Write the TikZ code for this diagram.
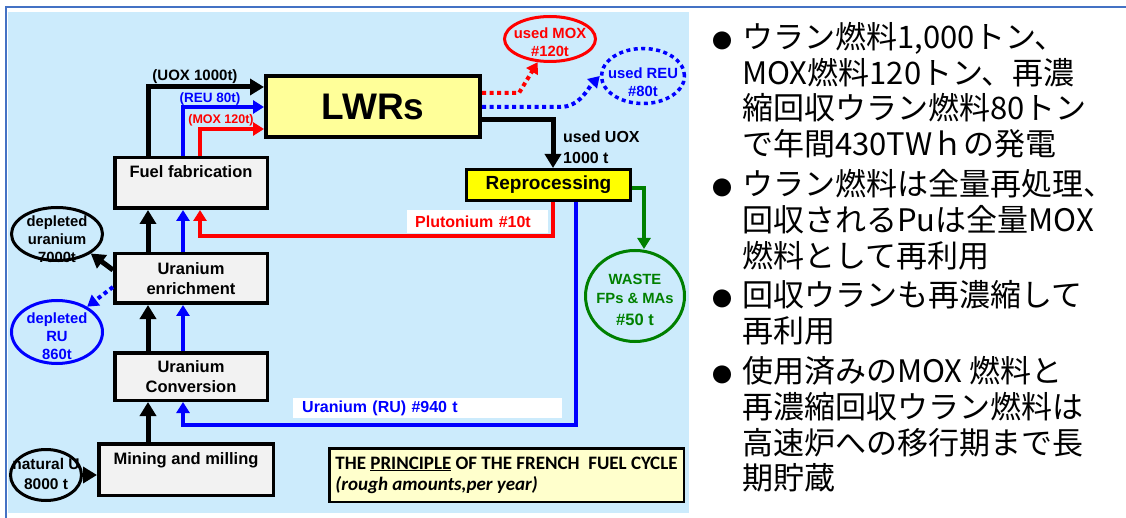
\documentclass[tikz,border=0pt]{standalone}
\usepackage{fontspec}
\setmainfont{Liberation Sans}
\newfontfamily\jpfont{Noto Sans CJK JP}
\newfontfamily\carlitofont{Carlito}
\usetikzlibrary{arrows.meta,shapes.geometric}
\definecolor{panelblue}{RGB}{204,235,252}
\definecolor{framecol}{RGB}{68,114,196}
\definecolor{boxgray}{RGB}{242,242,242}
\definecolor{lwryellow}{RGB}{255,255,153}
\definecolor{repyellow}{RGB}{255,255,0}
\definecolor{legendfill}{RGB}{255,255,204}
\definecolor{cred}{RGB}{255,0,0}
\definecolor{cblue}{RGB}{0,0,255}
\definecolor{cgreen}{RGB}{0,128,0}
\newcommand\setfs[2]{\fontsize{#1}{#2}\selectfont}
\newcommand\jpbullet{\llap{{\setfs{20}{20}●}\hspace{10pt}}}
\begin{document}
\begin{tikzpicture}[x=1pt,y=-1pt,
  box/.style={draw=black, line width=3.5pt, fill=boxgray, inner sep=0pt, align=center, font=\bfseries\setfs{16.5}{20}},
  ell/.style={ellipse, line width=3pt, inner sep=0pt},
  etxt/.style={inner sep=0pt, align=center, font=\bfseries\setfs{14.8}{18}},
  lbl/.style={inner sep=0pt, font=\bfseries},
  blk/.style={line width=5pt, black, -{Triangle[length=14pt,width=16pt]}},
  blu/.style={line width=4pt, cblue, -{Triangle[length=11pt,width=13pt]}},
  rd/.style={line width=4pt, cred, -{Triangle[length=11pt,width=13pt]}},
  grn/.style={line width=4pt, cgreen, -{Triangle[length=11pt,width=13pt]}},
  dotline/.style={dash pattern=on 4pt off 3.5pt}]
\useasboundingbox (0,0) rectangle (1126,518);
\fill[white] (0,0) rectangle (1126,518);
\fill[panelblue] (8,12) rectangle (689,513);
\draw[framecol, line width=2pt] (6,518) -- (6,7) -- (1126,7);

% boxes
\node[box, minimum width=152.5pt, minimum height=50.5pt, text height=12pt, text depth=22pt] (ff) at (191,183) {Fuel fabrication};
\node[box, minimum width=152.5pt, minimum height=49.5pt] (enr) at (191,278.5) {Uranium\\enrichment};
\node[box, minimum width=152.5pt, minimum height=47.5pt] (conv) at (191,376.5) {Uranium\\Conversion};
\node[box, minimum width=174.5pt, minimum height=51.5pt, text height=12pt, text depth=23pt] (mine) at (186,469.5) {Mining and milling};
\node[box, line width=4pt, fill=lwryellow, minimum width=214pt, minimum height=61pt, font=\bfseries\setfs{37}{40}] (lwr) at (373,106.5) {LWRs};
\node[box, line width=3pt, fill=repyellow, minimum width=164pt, minimum height=31pt, font=\bfseries\setfs{19}{21}] (rep) at (548.5,185) {Reprocessing};
\node[box, line width=2.5pt, fill=legendfill, minimum width=354.5pt, minimum height=53.5pt, align=left, font=\carlitofont\bfseries\setfs{19}{21}] (legend) at (506.5,475) {THE \underline{PRINCIPLE} OF THE FRENCH\ \ FUEL CYCLE\\\textit{(rough amounts,per year)}};

% ellipses
\node[ell, draw=cred, minimum width=91pt, minimum height=45pt] (mox) at (550,39) {};
\node[etxt, text=cred] (moxt) at ([yshift=-3.5pt]mox.center) {used MOX\\\#120t};
\node[ell, draw=cblue, line width=3.5pt, dotline, minimum width=83pt, minimum height=55pt] (reu) at (643,76) {};
\node[etxt, text=cblue] (reut) at ([yshift=-6pt]reu.center) {used REU\\\#80t};
\node[ell, draw=black, minimum width=91pt, minimum height=53pt] (du) at (57,234) {};
\node[etxt] (dut) at ([yshift=-5pt]du.center) {depleted\\uranium\\7000t};
\node[ell, draw=cblue, minimum width=91pt, minimum height=63pt] (dru) at (57,332) {};
\node[etxt, text=cblue] (drut) at ([yshift=-4pt]dru.center) {depleted\\RU\\860t};
\node[ell, draw=black, minimum width=71pt, minimum height=51pt] (natu) at (46,475) {};
\node[etxt, font=\bfseries\setfs{15.5}{20}] (natut) at ([yshift=1.5pt]natu.center) {natural U\\8000 t};
\node[ell, draw=cgreen, minimum width=99pt, minimum height=91pt] (waste) at (635,296) {};
\node[etxt, text=cgreen, font=\bfseries\setfs{14.8}{19}] (wastet) at ([yshift=-4pt]waste.center) {WASTE\\FPs \& MAs\\[3pt]{\setfs{16.5}{19}\#50 t}};

% labels
\node[lbl, font=\bfseries\setfs{15}{18}] (uoxl) at (195,77) {(UOX 1000t)};
\node[lbl, text=cblue, font=\bfseries\setfs{13.5}{16}] (reul) at (210,99) {(REU 80t)};
\node[lbl, text=cred, font=\bfseries\setfs{12.5}{15}] (moxl) at (221,120) {(MOX 120t)};
\node[lbl, anchor=west, align=left, font=\bfseries\setfs{16}{21}] (uuox) at (563,147) {used UOX\\1000 t};
\node[anchor=west, fill=white, inner ysep=0pt, inner xsep=8pt, minimum height=23pt, text width=125pt, align=left, text=cred, font=\bfseries\setfs{16}{18}] (pul) at (407,221.5) {Plutonium \#10t};
\node[anchor=west, fill=white, inner ysep=0pt, inner xsep=9pt, minimum height=20pt, text width=251pt, align=left, text=cblue, font=\bfseries\setfs{16}{18}] (rul) at (293,408) {Uranium (RU) \#940 t};

% connectors to LWRs
\draw[blk] (148,0 |- ff.north) |- (lwr.west |- 0,87);
\draw[blu] (183,0 |- ff.north) |- (lwr.west |- 0,107);
\draw[rd] (200,0 |- ff.north) |- (lwr.west |- 0,129);
% from LWRs
\draw[rd, dotline] (lwr.east |- 0,93) -- (519,93) -- (mox.-118);
\draw[blu, dotline] (lwr.east |- 0,107) -- (560,107) .. controls (580,107) and (588,88) .. (reu.west);
\draw[blk] (lwr.east |- 0,120) -| (553,0 |- rep.north);
% from reprocessing
\draw[grn] (rep.east |- 0,188) -| (644,0 |- waste.north);
\draw[rd] (553,0 |- rep.south) |- (200,236) -- (200,0 |- ff.south);
\draw[blu] (576,0 |- rep.south) |- (183,425) -- (183,0 |- conv.south);
% left column
\draw[blk] (148,0 |- mine.north) -- (148,0 |- conv.south);
\draw[blk] (148,0 |- conv.north) -- (148,0 |- enr.south);
\draw[blu] (183,0 |- conv.north) -- (183,0 |- enr.south);
\draw[blk] (148,0 |- enr.north) -- (148,0 |- ff.south);
\draw[blu] (183,0 |- enr.north) -- (183,0 |- ff.south);
\draw[blk] (natu.east) -- (natu.east -| mine.west);
\draw[blk] (enr.west |- 0,270) -- (du.-30);
\draw[blu, dotline] (enr.west |- 0,287) -- (dru.40);

% notes
\node[anchor=north west, inner sep=0pt, align=left, font=\jpfont\setfs{31}{35.8}] (notes) at (742,22) {\jpbullet ウラン燃料1,000トン、\\
MOX燃料120トン、再濃\\
縮回収ウラン燃料80トン\\
で年間430TWｈの発電\\[4pt]
\jpbullet ウラン燃料は全量再処理、\\
回収されるPuは全量MOX\\
燃料として再利用\\[4pt]
\jpbullet 回収ウランも再濃縮して\\
再利用\\[4pt]
\jpbullet 使用済みのMOX 燃料と\\
再濃縮回収ウラン燃料は\\
高速炉への移行期まで長\\
期貯蔵};
\end{tikzpicture}
\end{document}
